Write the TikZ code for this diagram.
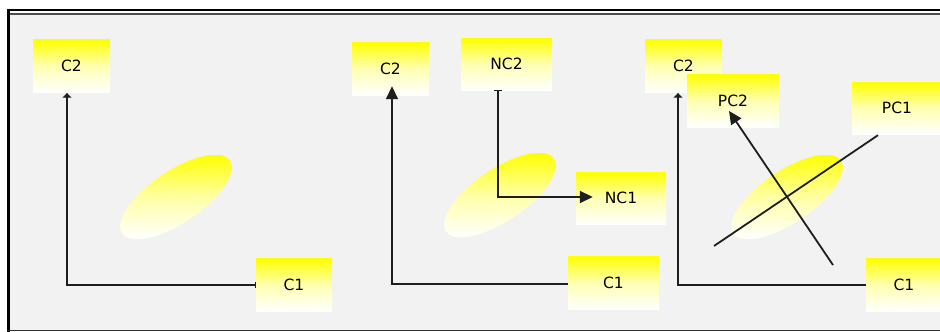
\documentclass[tikz,border=0pt]{standalone}
\usepackage{fontspec}
\newfontfamily\lbl{DejaVu Sans}
\usetikzlibrary{arrows.meta,calc}
\definecolor{bggrey}{HTML}{F2F2F2}
\definecolor{lnc}{HTML}{1E1E1E}
\tikzset{
  ybox/.style={shade, top color=yellow, bottom color=white, middle color=yellow!30,
    minimum height=53pt, inner sep=0pt, font=\lbl\fontsize{15.5}{17}\selectfont},
  conn/.style={draw=lnc, line width=1.8pt},
  bigtip/.style={-{Triangle[width=12pt,length=13pt]}},
  dometip/.style={-{Latex[width=10pt,length=5pt]}},
}
\newcommand{\blob}[1]{%
  \begin{scope}
    \clip[rotate around={34:(#1)}] (#1) ellipse [x radius=65pt, y radius=26pt];
    \shade[top color=yellow, bottom color=white, middle color=yellow!35] ($(#1)+(-60pt,-42pt)$) rectangle ($(#1)+(60pt,42pt)$);
  \end{scope}}
\begin{document}
\begin{tikzpicture}[x=1pt,y=-1pt]
\useasboundingbox (0,0) rectangle (940,332);
% frame
\fill[white] (0,0) rectangle (940,332);
\fill[bggrey] (10,15) rectangle (940,330);
\draw[black, line width=2pt] (7,10) -- (940,10);
\draw[black!70, line width=2pt] (10,14) -- (940,14);
\draw[black, line width=3pt] (8.5,9) -- (8.5,331.5);
\draw[black!80, line width=1.5pt] (7,330.5) -- (940,330.5);
% ellipses
\coordinate (e1) at (176,197);
\coordinate (e2) at (500,195);
\coordinate (e3) at (787,197);
\blob{e1}
\blob{e2}
\blob{e3}
% panel 1
\node[ybox, minimum width=77pt] (C2a) at (71.5,66) {C2};
\node[ybox, minimum width=76pt] (C1a) at (294,285) {C1};
\coordinate (k1) at (67,285);
\draw[conn, {Bar[width=6pt,line width=1.2pt]}-{Latex[width=10pt,length=5pt]}]
  (C1a.west) -- (k1) -- (k1 |- C2a.south);
% panel 2
\node[ybox, minimum width=77pt] (C2b) at (390.5,68.5) {C2};
\node[ybox, minimum width=91pt, minimum height=52pt] (NC2) at (506.5,64) {NC2};
\node[ybox, minimum width=90pt, minimum height=52pt] (NC1) at (621,198) {NC1};
\node[ybox, minimum width=91pt] (C1b) at (613.5,282.5) {C1};
\coordinate (k2) at (392,284);
\draw[conn, bigtip] (C1b.west |- k2) -- (k2) -- ($(k2 |- C2b.south)+(0,-9)$);
\coordinate (k3) at (498,197);
\draw[conn, {Bar[width=8pt,line width=1.2pt]}-{Triangle[width=12pt,length=13pt]}]
  (k3 |- NC2.south) -- (k3) -- ($(NC1.west |- k3)+(17,0)$);
% panel 3
\node[ybox, minimum width=77pt] (C2c) at (683.5,66) {C2};
\node[ybox, minimum width=92pt] (PC2) at (733,100.5) {PC2};
\node[ybox, minimum width=90pt, minimum height=52pt] (PC1) at (897,108) {PC1};
\node[ybox, minimum width=76pt] (C1c) at (904,285) {C1};
\coordinate (k4) at (678,285);
\draw[conn, dometip] (C1c.west) -- (k4) -- (k4 |- C2c.south);
\coordinate (pc1tail) at (714,246);
\draw[conn] (pc1tail) -- ($(PC1.south)+(-19,1)$);
\coordinate (pc2tail) at (833,265);
\draw[conn, bigtip] (pc2tail) -- ($(PC2.center)+(-4,10.5)$);
\end{tikzpicture}
\end{document}
